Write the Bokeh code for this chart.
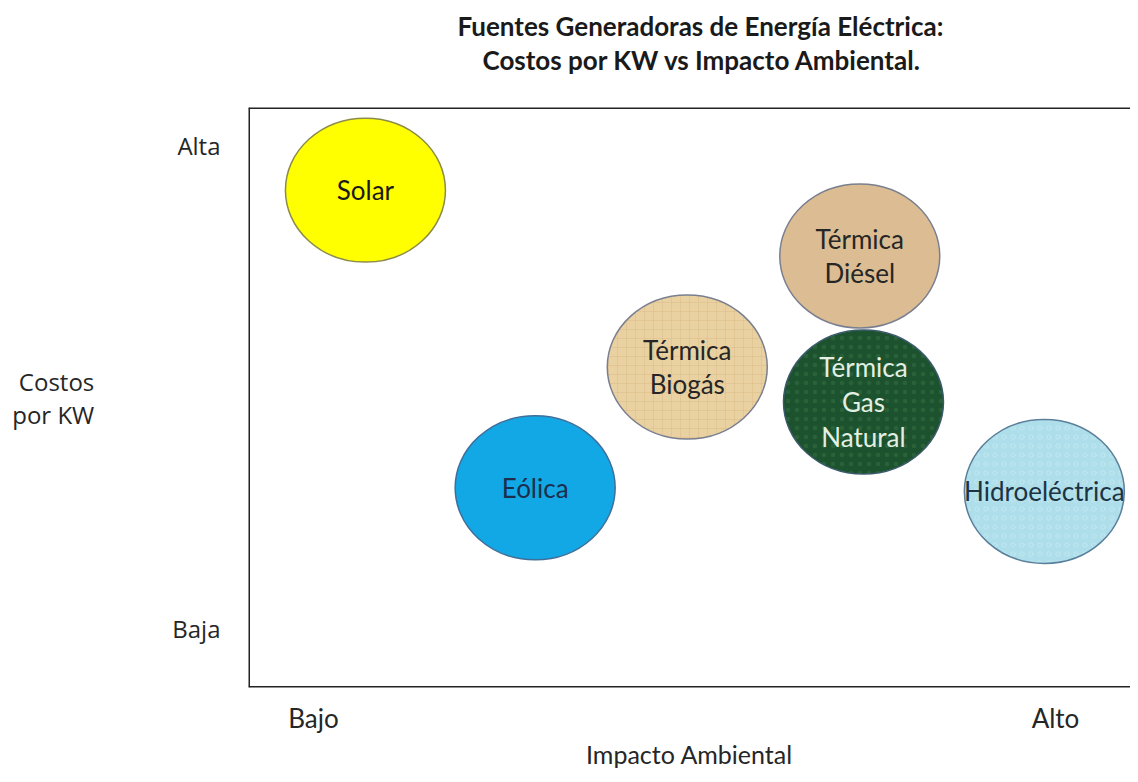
from bokeh.plotting import figure
from bokeh.models import ColumnDataSource, Range1d, FixedTicker, Label, Title, Span, LinearAxis
from bokeh.embed import file_html
from bokeh.resources import INLINE
from bokeh.core.properties import value

# ---- data ----
fuentes = ["Solar", "Eólica", "Térmica\nBiogás", "Térmica\nDiésel", "Térmica\nGas\nNatural", "Hidroeléctrica"]
impacto = [1.56, 3.39, 5.03, 6.89, 6.93, 8.88]
costo = [8.26, 3.33, 5.33, 7.17, 4.75, 3.27]
colores = ["#FFFF00", "#12A8E6", "#E9D1A2", "#DCBD93", "#1C522D", "#AEDEEA"]
bordes = ["#8C8C4A", "#3F6F9A", "#7A7F8F", "#7A7F8F", "#3A5A6A", "#5A7F9A"]
color_texto = ["#1A1A1A", "#1B2E4E", "#262626", "#262626", "#E3EFE3", "#1C3442"]
tramas = [" ", " ", "+", " ", ".", "o"]
color_trama = ["#000000", "#000000", "#D6B883", "#000000", "#3D7A4C", "#D8F2F8"]
x_ticks = {1: "Bajo", 9: "Alto"}
y_ticks = {1: "Baja", 9: "Alta"}
titulo1 = "Fuentes Generadoras de Energía Eléctrica:"
titulo2 = "Costos por KW vs Impacto Ambiental."
eje_x = "Impacto Ambiental"
eje_y = "Costos\npor KW"

src = ColumnDataSource(dict(x=impacto, y=costo, name=fuentes, fill=colores,
                            line=bordes, tc=color_texto, hp=tramas, hc=color_trama))

W, H = 1130, 774
x0, x1 = 0.2992, 9.809
y0, y1 = 0.0228, 9.629
p = figure(width=W, height=H, output_backend="svg", toolbar_location=None,
           x_range=Range1d(x0, x1), y_range=Range1d(y0, y1),
           min_border_left=248, min_border_right=0, min_border_top=107, min_border_bottom=87)
p.grid.visible = False
p.background_fill_color = "white"
p.border_fill_color = "white"
p.outline_line_color = None

for loc, dim in ((x0, "height"), (y0, "width"), (y1, "width")):
    p.add_layout(Span(location=loc, dimension=dim, line_color="#222222", line_width=3))

for ax, ticks in ((p.xaxis, x_ticks), (p.yaxis, y_ticks)):
    ax.ticker = FixedTicker(ticks=list(ticks.keys()))
    ax.major_label_overrides = {k: v for k, v in ticks.items()}
    ax.axis_line_color = None
    ax.major_tick_line_color = None
    ax.minor_tick_line_color = None
    ax.major_tick_out = 0
    ax.major_tick_in = 0
    ax.major_label_text_color = "#262626"
    ax.axis_label_text_color = "#262626"
    ax.axis_label_text_font_style = "normal"
p.xaxis.major_label_text_font = "Lato"
p.xaxis.major_label_text_font_size = "26px"
p.xaxis.major_label_standoff = 14
p.xaxis.axis_label = eje_x
p.xaxis.axis_label_text_font = "Lato"
p.xaxis.axis_label_text_font_size = "25px"
p.xaxis.axis_label_standoff = 2

p.yaxis.major_label_text_font = "Open Sans"
p.yaxis.major_label_text_font_size = "24px"
p.yaxis.major_label_standoff = 28

has_orient = "axis_label_orientation" in LinearAxis.properties()
if has_orient:
    p.yaxis.axis_label = eje_y
    p.yaxis.axis_label_orientation = "horizontal"
    p.yaxis.axis_label_text_font = "Open Sans"
    p.yaxis.axis_label_text_font_size = "24px"
    p.yaxis.axis_label_text_align = "center"
    p.yaxis.axis_label_standoff = 75
    p.yaxis.axis_label_text_line_height = 1.0
else:
    p.add_layout(Label(x=55, y=H - 397, x_units="screen", y_units="screen", text=eje_y,
                       text_align="center", text_baseline="middle", text_font="Open Sans",
                       text_font_size="24px", text_color="#262626", text_line_height=1.0))

p.ellipse(x="x", y="y", width=160, height=144, width_units="screen", height_units="screen",
          source=src, fill_color="fill", line_color="line", line_width=1.5,
          hatch_pattern="hp", hatch_color="hc", hatch_alpha=0.4, hatch_scale=9, hatch_weight=1)
p.text(x="x", y="y", text="name", source=src, text_align="center", text_baseline="middle",
       text_font=value("Lato"), text_font_size="26px", text_color="tc", text_line_height=1.09)

# second title line carries a trailing empty line so the two lines sit high above the frame
t2 = Title(text=titulo2 + "\n", align="left", offset=234, text_font="Lato", text_font_size="26px",
           text_font_style="bold", text_color="#1A1A1A", standoff=0, text_line_height=1.0)
t1 = Title(text=titulo1, align="left", offset=209, text_font="Lato", text_font_size="26px",
           text_font_style="bold", text_color="#1A1A1A", standoff=0)
p.add_layout(t2, "above")
p.add_layout(t1, "above")
p.title.visible = False

open("out.html", "w").write(file_html(p, INLINE))
